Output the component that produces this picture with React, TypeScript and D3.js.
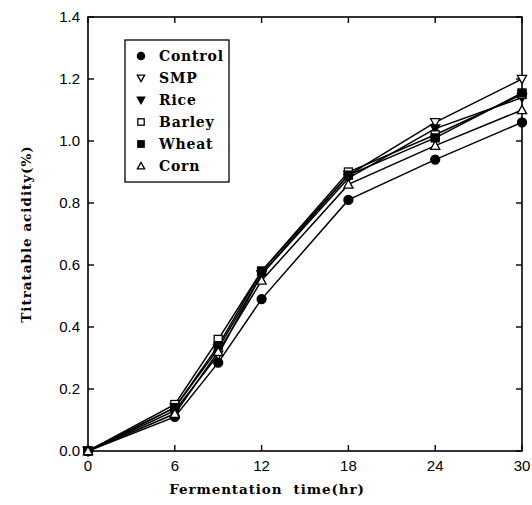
import React, { useEffect, useRef } from 'react';
import * as d3 from 'd3';

const hours = [0, 6, 9, 12, 18, 24, 30];
const control = [0, 0.11, 0.285, 0.49, 0.81, 0.94, 1.06];
const smp = [0, 0.13, 0.31, 0.57, 0.89, 1.06, 1.2];
const rice = [0, 0.14, 0.33, 0.57, 0.88, 1.04, 1.14];
const barley = [0, 0.15, 0.36, 0.58, 0.9, 1.02, 1.15];
const wheat = [0, 0.14, 0.34, 0.58, 0.89, 1.01, 1.155];
const corn = [0, 0.12, 0.32, 0.55, 0.86, 0.985, 1.1];

const xTicks = [0, 6, 12, 18, 24, 30];
const yTicks = [0, 0.2, 0.4, 0.6, 0.8, 1.0, 1.2, 1.4];

const series = [
  { name: 'Control', values: control, shape: 'circle', filled: true },
  { name: 'SMP', values: smp, shape: 'down', filled: false },
  { name: 'Rice', values: rice, shape: 'down', filled: true },
  { name: 'Barley', values: barley, shape: 'square', filled: false },
  { name: 'Wheat', values: wheat, shape: 'square', filled: true },
  { name: 'Corn', values: corn, shape: 'up', filled: false },
];

const drawMarker = (g, shape, filled, cx, cy, k = 1) => {
  const fill = filled ? '#000' : '#fff';
  if (shape === 'circle') {
    g.append('circle').attr('cx', cx).attr('cy', cy).attr('r', 4.5 * k)
      .attr('fill', fill).attr('stroke', '#000').attr('stroke-width', 1.3);
  } else if (shape === 'square') {
    g.append('rect').attr('x', cx - 4 * k).attr('y', cy - 4 * k).attr('width', 8 * k).attr('height', 8 * k)
      .attr('fill', fill).attr('stroke', '#000').attr('stroke-width', 1.3);
  } else {
    const s = 4.6 * k;
    const pts = shape === 'up'
      ? [[cx, cy - s], [cx + s, cy + s * 0.8], [cx - s, cy + s * 0.8]]
      : [[cx, cy + s], [cx + s, cy - s * 0.8], [cx - s, cy - s * 0.8]];
    g.append('polygon').attr('points', pts.map(p => p.join(',')).join(' '))
      .attr('fill', fill).attr('stroke', '#000').attr('stroke-width', 1.3);
  }
};

const App = () => {
  const svgRef = useRef();

  useEffect(() => {
    d3.select(svgRef.current).selectAll('*').remove();

    const left = 88, right = 522, top = 17, bottom = 451;

    const svg = d3.select(svgRef.current)
      .attr('width', 532)
      .attr('height', 505);

    const x = d3.scaleLinear().domain([0, 30]).range([left, right]);
    const y = d3.scaleLinear().domain([0, 1.4]).range([bottom, top]);

    // frame
    svg.append('rect')
      .attr('x', left).attr('y', top)
      .attr('width', right - left).attr('height', bottom - top)
      .attr('fill', 'none').attr('stroke', '#000').attr('stroke-width', 1.6);

    const tl = 6;
    const ticks = svg.append('g').attr('stroke', '#000').attr('stroke-width', 1.4);
    xTicks.forEach(t => {
      ticks.append('line').attr('x1', x(t)).attr('x2', x(t)).attr('y1', bottom).attr('y2', bottom - tl);
      ticks.append('line').attr('x1', x(t)).attr('x2', x(t)).attr('y1', top).attr('y2', top + tl);
    });
    yTicks.forEach(t => {
      ticks.append('line').attr('x1', left).attr('x2', left + tl).attr('y1', y(t)).attr('y2', y(t));
      ticks.append('line').attr('x1', right).attr('x2', right - tl).attr('y1', y(t)).attr('y2', y(t));
    });

    const tickFont = "'Liberation Sans', Arial, sans-serif";
    svg.append('g').selectAll('text').data(xTicks).enter().append('text')
      .attr('x', d => x(d)).attr('y', bottom + 20)
      .attr('text-anchor', 'middle')
      .style('font-family', tickFont).style('font-size', '15px')
      .text(d => d);
    svg.append('g').selectAll('text').data(yTicks).enter().append('text')
      .attr('x', left - 8).attr('y', d => y(d) + 5)
      .attr('text-anchor', 'end')
      .style('font-family', tickFont).style('font-size', '15px')
      .text(d => d3.format('.1f')(d));

    const titleFont = "'DejaVu Serif', serif";
    svg.append('text')
      .attr('x', 267).attr('y', 494)
      .attr('text-anchor', 'middle')
      .style('font-family', titleFont).style('font-weight', 'bold').style('font-size', '13.5px')
      .style('letter-spacing', '0.9px')
      .text('Fermentation \u00a0time(hr)');
    svg.append('text')
      .attr('transform', `translate(31, ${(top + bottom) / 2}) rotate(-90)`)
      .attr('text-anchor', 'middle')
      .style('font-family', titleFont).style('font-weight', 'bold').style('font-size', '13.5px')
      .style('letter-spacing', '1px')
      .text('Titratable acidity(%)');

    const line = d3.line()
      .x((d, i) => x(hours[i]))
      .y(d => y(d));

    series.forEach(s => {
      svg.append('path').datum(s.values)
        .attr('d', line)
        .attr('fill', 'none').attr('stroke', '#000').attr('stroke-width', 1.5);
    });
    series.forEach(s => {
      const g = svg.append('g');
      s.values.forEach((v, i) => drawMarker(g, s.shape, s.filled, x(hours[i]), y(v)));
    });

    // legend
    const lg = svg.append('g');
    lg.append('rect').attr('x', 125).attr('y', 40).attr('width', 104).attr('height', 142)
      .attr('fill', '#fff').attr('stroke', '#000').attr('stroke-width', 1.3);
    series.forEach((s, i) => {
      const cy = 56 + i * 22;
      drawMarker(lg, s.shape, s.filled, 141, cy, 0.8);
      lg.append('text').attr('x', 159).attr('y', cy + 5)
        .style('font-family', titleFont).style('font-weight', 'bold').style('font-size', '14px')
        .style('letter-spacing', '0.8px')
        .text(s.name);
    });
  }, []);

  return <svg ref={svgRef} style={{ position: 'absolute', left: 0, top: 0 }}></svg>;
};

export default App;
